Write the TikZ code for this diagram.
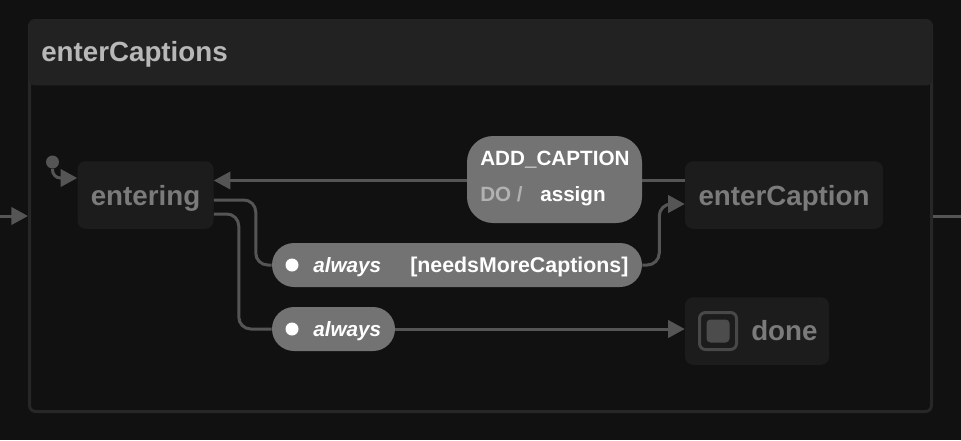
\documentclass[tikz,border=0pt]{standalone}
\usepackage{fontspec}
\setmainfont{Liberation Sans}
\usetikzlibrary{positioning,calc,arrows.meta}
\definecolor{bgcol}{HTML}{111111}
\definecolor{framecol}{HTML}{272727}
\definecolor{headcol}{HTML}{222222}
\definecolor{statecol}{HTML}{1C1C1C}
\definecolor{statetext}{HTML}{7B7B7B}
\definecolor{pillcol}{HTML}{737373}
\definecolor{edgecol}{HTML}{555555}
\newdimen\px
\px=0.75pt

\begin{document}
\begin{tikzpicture}
    [x=0.75pt,y=-0.75pt,
      statebox/.style={rectangle,fill=statecol,rounded corners=8\px,inner sep=0pt,minimum height=67.5\px,
        text=statetext,text height=15pt,text depth=0pt,font=\fontsize{20.8}{24}\selectfont\bfseries},
      pill/.style={rectangle,fill=pillcol,rounded corners=22\px,inner sep=0pt,minimum height=44\px},
      pilltext/.style={anchor=base west,inner sep=0pt,text=white,font=\fontsize{15.5}{18}\selectfont\bfseries},
      pillem/.style={pilltext,font=\fontsize{15.5}{18}\selectfont\bfseries\itshape},
      whitedot/.style={circle,fill=white,inner sep=0pt,minimum size=13\px},
      trans/.style={draw=edgecol,line width=2.25pt,rounded corners=9pt},
      transtip/.style={-{Triangle[length=12.5pt,width=13pt]}}]

    \useasboundingbox (0,0) rectangle (961,440);
    \fill [bgcol] (0,0) rectangle (961,440);

    \node [rectangle,draw=framecol,line width=3\px,rounded corners=6\px,inner sep=0pt,
      minimum width=902\px,minimum height=391\px] (frame) at (480.5,216) {};
    \node [rectangle,fill=headcol,rounded corners=6\px,inner sep=0pt,anchor=north,
      minimum width=904\px,minimum height=66\px] (head) at (frame.north) {};
    \node [anchor=base west,inner sep=0pt,text=black!28!white,font=\fontsize{20.8}{24}\selectfont\bfseries]
      (title) at (41,61) {enterCaptions};

    \node [statebox,minimum width=136\px] (entering) at (145.5,195) {entering};
    \node [statebox,minimum width=198\px,right=471\px of entering] (enterCaption) {enterCaption};
    \node [statebox,minimum width=144\px,below right=68\px and 0pt of enterCaption.south west] (done) {};
    \node [anchor=base west,inner sep=0pt,text=statetext,font=\fontsize{20.8}{24}\selectfont\bfseries]
      (doneText) at (751,340) {done};
    \node [rectangle,draw=edgecol!85!black,line width=3\px,rounded corners=6\px,inner sep=0pt,
      minimum size=37\px] (doneOuter) at (718,331) {};
    \node [rectangle,fill=edgecol!90!black,rounded corners=4\px,inner sep=0pt,minimum size=23\px] (doneInner) at (doneOuter) {};

    \node [pill,rounded corners=26\px,minimum width=175\px,minimum height=87\px] (addCaption) at (554.5,179.5) {};
    \node [pilltext] (addLabel) at (480,165) {ADD\_CAPTION};
    \node [pilltext,text=black!30!white] (doLabel) at (480,201.5) {DO /};
    \node [pilltext] (assignLabel) at (540,201.5) {assign};

    \node [pill,minimum width=370\px] (always1) at (457,265) {};
    \node [whitedot] (dot1) at (292,265) {};
    \node [pillem] (always1Label) at (313,272) {always};
    \node [pilltext,font=\fontsize{16}{18}\selectfont\bfseries] (guardLabel) at (410,272) {[needsMoreCaptions]};

    \node [pill,minimum width=123\px] (always2) at (333.5,329) {};
    \node [whitedot] (dot2) at (292,329) {};
    \node [pillem] (always2Label) at (313,336) {always};

    \node [circle,fill=edgecol,inner sep=0pt,minimum size=13\px] (init) at (52.5,162) {};
    \coordinate (inStart) at (0,216);
    \coordinate (outEnd) at (961,216);
    \coordinate (addLeft) at ($(addCaption.west)+(0,1)$);
    \coordinate (addRight) at ($(addCaption.east)+(0,1)$);

    \draw [trans,transtip,rounded corners=6pt] (init) |- ($(entering.west)+(0,-17)$);
    \draw [trans,transtip] (inStart) -- (frame.west);
    \draw [trans] (frame.east) -- (outEnd);

    \draw [trans,transtip] (addLeft) -- (entering.east |- addLeft);
    \draw [trans] (addRight) -- (enterCaption.west |- addRight);

    \draw [trans] ($(entering.east)+(0,5)$) -- +(42,0) |- (always1.west);
    \draw [trans] ($(entering.east)+(0,19)$) -- +(25,0) |- (always2.west);

    \draw [trans,transtip] (always1.east) -- +(17,0) |- ($(enterCaption.west)+(0,9)$);
    \draw [trans,transtip] (always2.east) -- (done.west |- always2.east);
\end{tikzpicture}
\end{document}
